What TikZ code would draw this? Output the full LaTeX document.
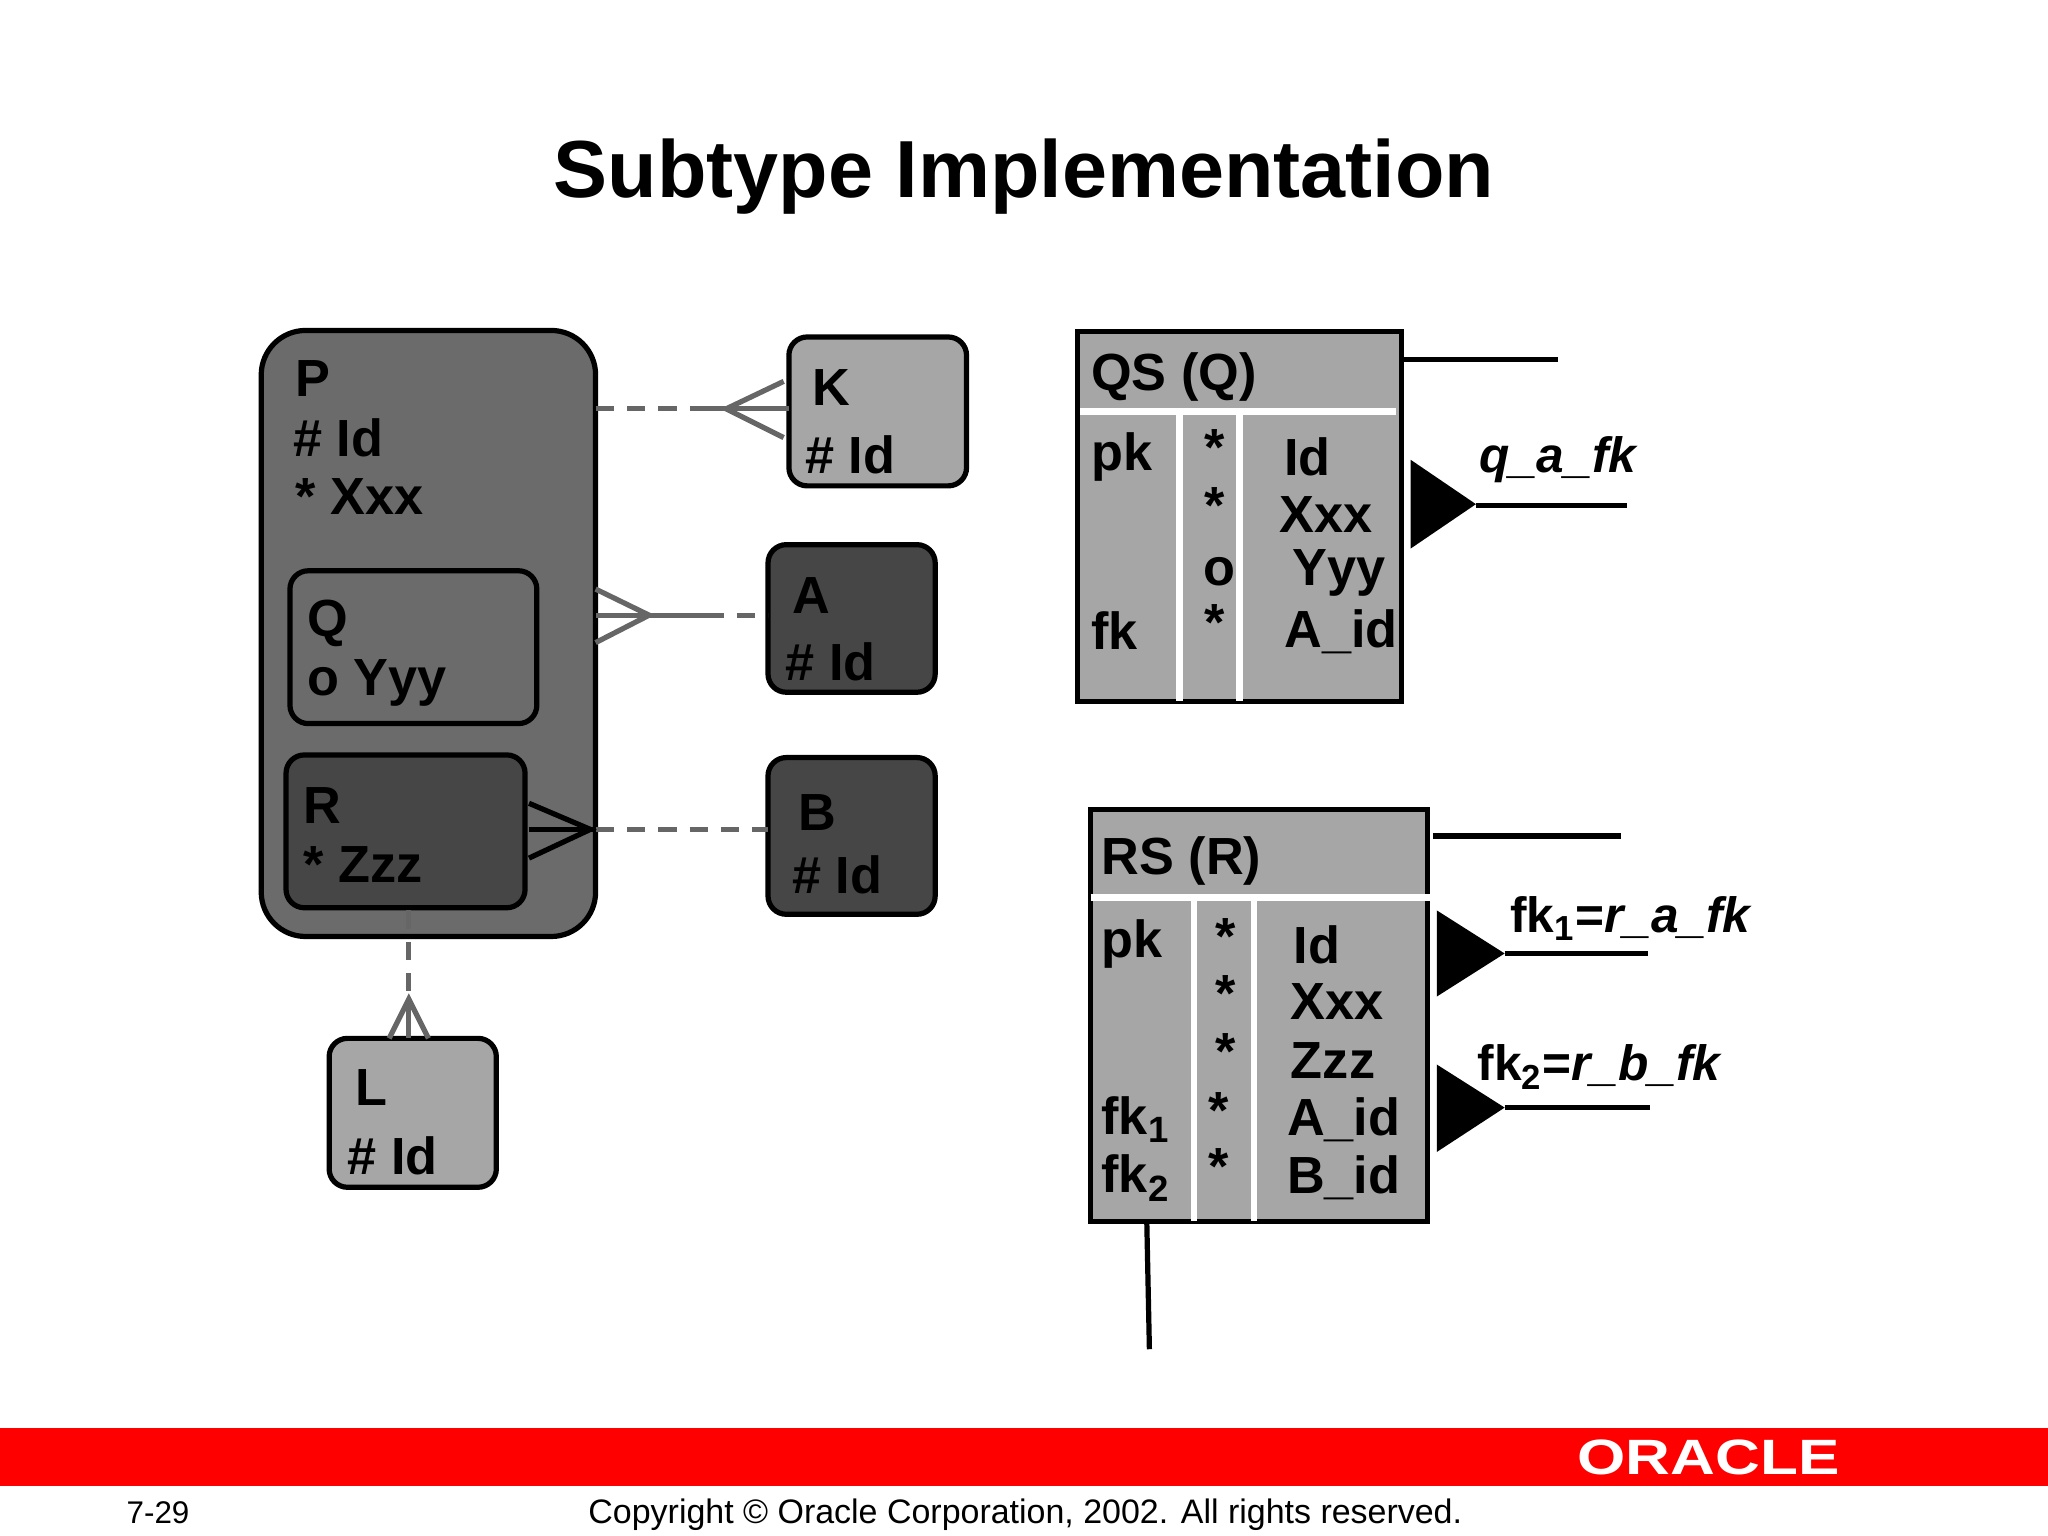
\documentclass[tikz,border=0pt]{standalone}
\usepackage{fontspec}
\setmainfont{Liberation Sans}
\definecolor{mid}{HTML}{6B6B6B}
\definecolor{dark}{HTML}{464646}
\definecolor{light}{HTML}{A6A6A6}
\definecolor{con}{HTML}{666666}
\begin{document}
\begin{tikzpicture}[x=0.5pt,y=-0.5pt,
 ent/.style={draw=black,line width=2pt},
 tx/.style={anchor=west,inner sep=0pt,font=\bfseries\fontsize{20}{21}\selectfont},
 ln/.style={con,line width=2pt},
 dl/.style={con,line width=2pt,dash pattern=on 7pt off 5pt},
 wl/.style={white,line width=2.5pt},
 bl/.style={black,line width=2pt}]
\path[use as bounding box] (0,0) rectangle (1568,1176);
\node[font=\bfseries\fontsize{31}{34}\selectfont] (title) at (784,135) {Subtype Implementation};
% P
\draw[ent,fill=mid,rounded corners=17pt] (200,253) rectangle (456,717);
\node[tx] (pn) at (226,290) {P};
\node[tx] (pid) at (224,335) {\# Id};
\node[tx] (px) at (226,380) {* Xxx};
\draw[ent,fill=mid,rounded corners=7pt] (222,437) rectangle (411,554);
\node[tx] (qn) at (235,477) {Q};
\node[tx] (qy) at (235,523) {o Yyy};
\draw[ent,fill=dark,rounded corners=7pt] (219,578) rectangle (402,695);
\node[tx] (rn) at (232,617) {R};
\node[tx] (rz) at (232,662) {* Zzz};
% K A B L
\draw[ent,fill=light,rounded corners=7pt] (604,258) rectangle (740,372);
\node[tx] (kn) at (622,297) {K};
\node[tx] (kid) at (616,348) {\# Id};
\draw[ent,fill=dark,rounded corners=7pt] (588,417) rectangle (716,530);
\node[tx] (an) at (606,456) {A};
\node[tx] (aid) at (601,507) {\# Id};
\draw[ent,fill=dark,rounded corners=7pt] (588,580) rectangle (716,700);
\node[tx] (bn) at (611,622) {B};
\node[tx] (bid) at (606,670) {\# Id};
\draw[ent,fill=light,rounded corners=7pt] (252,795) rectangle (380,909);
\node[tx] (ln) at (272,833) {L};
\node[tx] (lid) at (266,885) {\# Id};
% connectors
\coordinate (pk1) at (456,313); \coordinate (pk2) at (530,313); \coordinate (pk3) at (604,313);
\draw[dl] (pk1) -- (pk2); \draw[ln] (pk2) -- (pk3);
\draw[ln] (600,292) -- (556,313) -- (600,335);
\coordinate (pa1) at (456,471); \coordinate (pa2) at (540,471); \coordinate (pa3) at (588,471);
\draw[ln] (pa1) -- (pa2); \draw[dl] (pa2) -- (pa3);
\draw[ln] (456,451) -- (497,471) -- (456,492);
\coordinate (rb1) at (405,635); \coordinate (rb2) at (456,635); \coordinate (rb3) at (588,635);
\draw[bl] (rb1) -- (rb2); \draw[dl] (rb2) -- (rb3);
\draw[bl] (405,615) -- (452,635) -- (405,657);
\coordinate (pl1) at (313,697); \coordinate (pl2) at (313,765); \coordinate (pl3) at (313,795);
\draw[dl] (pl1) -- (pl2); \draw[ln] (pl2) -- (pl3);
\draw[ln] (298,795) -- (313,765) -- (328,795);
% QS table
\draw[ent,fill=light] (825,254) rectangle (1073,537);
\node[tx] (qsh) at (835,289) {QS (Q)};
\draw[wl] (827,315) -- (1069,315);
\draw[wl] (903,315) -- (903,537);
\draw[wl] (949,315) -- (949,537);
\node[tx] (q1) at (835,350) {pk};
\node[tx] (q2) at (835,483) {fk};
\node[tx] (q3) at (922,343) {*};
\node[tx] (q4) at (922,387) {*};
\node[tx] (q5) at (921,438) {o};
\node[tx] (q6) at (922,477) {*};
\node[tx] (q7) at (983,350) {Id};
\node[tx] (q8) at (979,394) {Xxx};
\node[tx] (q9) at (989,439) {Yyy};
\node[tx] (q10) at (983,484) {A\_id};
\draw[bl] (1073,275) -- (1193,275);
\fill (1080,352) -- (1130,386) -- (1080,420) -- cycle;
\draw[bl] (1130,387) -- (1246,387);
\node[tx,font=\bfseries\itshape\fontsize{19}{20}\selectfont] (qfk) at (1132,352) {q\_a\_fk};
% RS table
\draw[ent,fill=light] (835,620) rectangle (1093,935);
\node[tx] (rsh) at (843,659) {RS (R)};
\draw[wl] (835,687) -- (1095,687);
\draw[wl] (914,687) -- (914,935);
\draw[wl] (960,687) -- (960,935);
\node[tx] (r1) at (843,723) {pk};
\node[tx] (r2) at (843,857) {fk$_{\mathbf 1}$};
\node[tx] (r3) at (843,902) {fk$_{\mathbf 2}$};
\node[tx] (s1) at (930,717) {*};
\node[tx] (s2) at (930,761) {*};
\node[tx] (s3) at (930,805) {*};
\node[tx] (s4) at (925,850) {*};
\node[tx] (s5) at (925,893) {*};
\node[tx] (r4) at (990,723) {Id};
\node[tx] (r5) at (988,767) {Xxx};
\node[tx] (r6) at (988,812) {Zzz};
\node[tx] (r7) at (985,857) {A\_id};
\node[tx] (r8) at (985,902) {B\_id};
\draw[bl] (1097,640) -- (1241,640);
\fill (1100,697) -- (1152,730) -- (1100,763) -- cycle;
\draw[bl] (1152,730) -- (1262,730);
\node[tx,font=\bfseries\fontsize{19}{20}\selectfont] (f1) at (1156,703) {fk$_{\mathbf 1}$=\textit{r\_a\_fk}};
\fill (1100,815) -- (1152,848) -- (1100,882) -- cycle;
\draw[bl] (1152,848) -- (1263,848);
\node[tx,font=\bfseries\fontsize{19}{20}\selectfont] (f2) at (1131,817) {fk$_{\mathbf 2}$=\textit{r\_b\_fk}};
\draw[bl] (878,935) -- (880,1033);
% footer
\fill[red] (0,1093) rectangle (1568,1138);
\node[white,font=\bfseries\fontsize{19}{20}\selectfont,xscale=1.25] (orc) at (1308,1116) {ORACLE};
\node[font=\fontsize{12}{14}\selectfont] (pg) at (121,1158) {7-29};
\node[font=\fontsize{13}{15}\selectfont] (cp) at (785,1160) {Copyright © Oracle Corporation, 2002. All rights reserved.};
\end{tikzpicture}
\end{document}
